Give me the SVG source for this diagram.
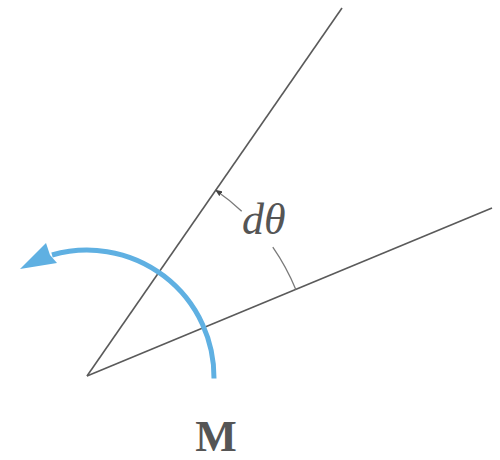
<svg xmlns="http://www.w3.org/2000/svg" width="500" height="460" viewBox="0 0 500 460">
<style>
.ln{stroke:#5a5a5a;stroke-width:1.6;fill:none}
.ld{stroke:#7a7a7a;stroke-width:1.3;fill:none}
.mom{stroke:#5fb0e2;stroke-width:5;fill:none}
.lbl{font-family:"Liberation Serif",serif;fill:#555}
</style>
<defs>
<marker id="ah" viewBox="0 0 10 10" refX="9" refY="5" markerWidth="7" markerHeight="7" markerUnits="userSpaceOnUse" orient="auto">
<path d="M0,1 L10,5 L0,9 z" fill="#444"/>
</marker>
</defs>
<rect width="500" height="460" fill="#fff"/>
<g id="connectors">
<line class="ln" x1="87" y1="376" x2="342" y2="8"/>
<line class="ln" x1="87" y1="376" x2="492" y2="208"/>
<path class="ld" d="M241.7,211.2 A226,226 0 0 0 215.7,190.2" marker-end="url(#ah)"/>
<path class="ld" d="M272.8,247.2 A226,226 0 0 1 295.8,289.5"/>
</g>
<g id="moment">
<path class="mom" d="M214,378.5 A127,127 0 0 0 52,255"/>
<path d="M20,269 L46,243 L50,255 L57,263 z" fill="#5fb0e2"/>
</g>
<g id="label-dtheta">
<text class="lbl" x="242" y="234" font-size="44" font-style="italic">dθ</text>
</g>
<g id="label-M">
<text class="lbl" x="216" y="451" font-size="44" font-weight="bold" text-anchor="middle" fill="#444">M</text>
</g>
</svg>
